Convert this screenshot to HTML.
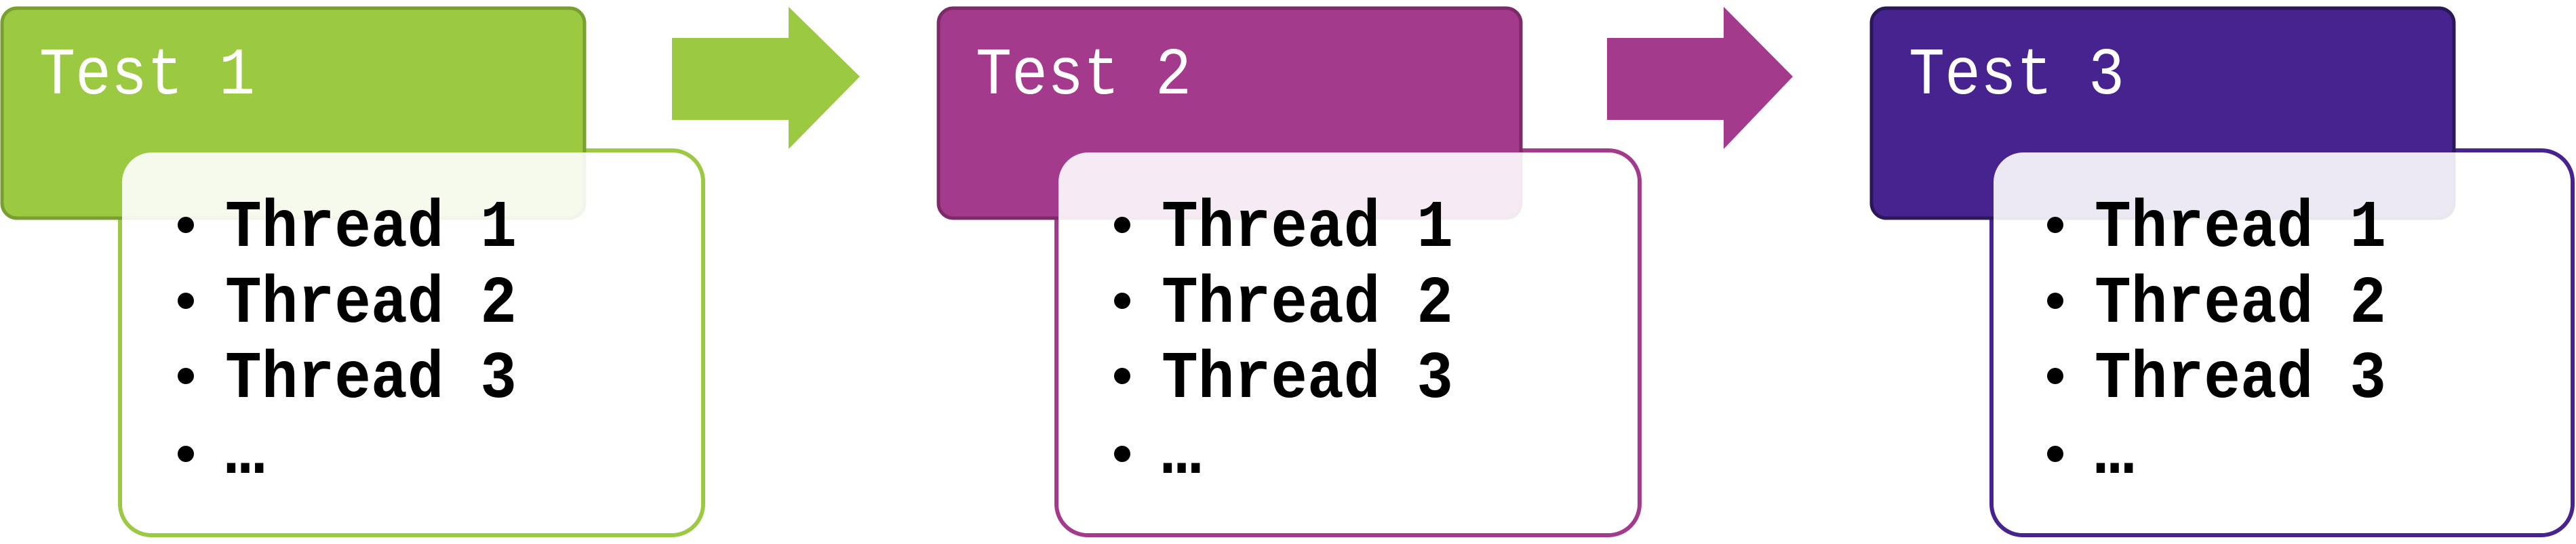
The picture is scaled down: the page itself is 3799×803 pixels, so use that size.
<!DOCTYPE html>
<html><head><meta charset="utf-8"><style>
html,body{margin:0;padding:0;background:#fff;}
svg{display:block;}
text{font-family:"Liberation Mono","DejaVu Sans Mono",monospace;}
</style></head><body>
<svg width="3799" height="803" viewBox="0 0 3799 803" xmlns="http://www.w3.org/2000/svg">
<defs>
<g id="list">
  <circle cx="274" cy="332" r="12" fill="#000"/>
  <circle cx="274" cy="444" r="12" fill="#000"/>
  <circle cx="274" cy="555" r="12" fill="#000"/>
  <circle cx="274" cy="670" r="12" fill="#000"/>
  <text x="332" y="363" font-size="98" font-weight="bold" fill="#000" textLength="430" lengthAdjust="spacingAndGlyphs">Thread 1</text>
  <text x="332" y="475" font-size="98" font-weight="bold" fill="#000" textLength="430" lengthAdjust="spacingAndGlyphs">Thread 2</text>
  <text x="332" y="586" font-size="98" font-weight="bold" fill="#000" textLength="430" lengthAdjust="spacingAndGlyphs">Thread 3</text>
  <text x="332" y="698" font-size="98" font-weight="bold" fill="#000">…</text>
</g>
</defs>

<!-- Step 1 -->
<g transform="translate(0,0)">
  <rect x="177" y="222" width="860" height="568" rx="46" fill="#fff" stroke="#9BC942" stroke-width="6"/>
  <rect x="3" y="12" width="859" height="310" rx="22" fill="#9BC942" stroke="#789F30" stroke-width="5"/>
  <rect x="180" y="225" width="854" height="562" rx="44" fill="#fff" fill-opacity="0.9"/>
  <text x="58" y="138" font-size="98" fill="#fff" textLength="318" lengthAdjust="spacingAndGlyphs">Test 1</text>
  <use href="#list"/>
</g>
<polygon points="991,56 1163,56 1163,10 1268,113 1163,220 1163,177 991,177" fill="#9BC942"/>

<!-- Step 2 -->
<g transform="translate(1381,0)">
  <rect x="177" y="222" width="860" height="568" rx="46" fill="#fff" stroke="#A33A8C" stroke-width="6"/>
  <rect x="3" y="12" width="859" height="310" rx="22" fill="#A33A8C" stroke="#7C2B68" stroke-width="5"/>
  <rect x="180" y="225" width="854" height="562" rx="44" fill="#fff" fill-opacity="0.9"/>
  <text x="58" y="138" font-size="98" fill="#fff" textLength="318" lengthAdjust="spacingAndGlyphs">Test 2</text>
  <use href="#list"/>
</g>
<polygon points="2370,56 2542,56 2542,10 2644,113 2542,220 2542,177 2370,177" fill="#A33A8C"/>

<!-- Step 3 -->
<g transform="translate(2757,0)">
  <rect x="180" y="222" width="857" height="568" rx="46" fill="#fff" stroke="#46238F" stroke-width="6"/>
  <rect x="3" y="12" width="859" height="310" rx="22" fill="#46238F" stroke="#2B1857" stroke-width="5"/>
  <rect x="183" y="225" width="851" height="562" rx="44" fill="#fff" fill-opacity="0.9"/>
  <text x="58" y="138" font-size="98" fill="#fff" textLength="318" lengthAdjust="spacingAndGlyphs">Test 3</text>
  <use href="#list"/>
</g>
</svg>
</body></html>
